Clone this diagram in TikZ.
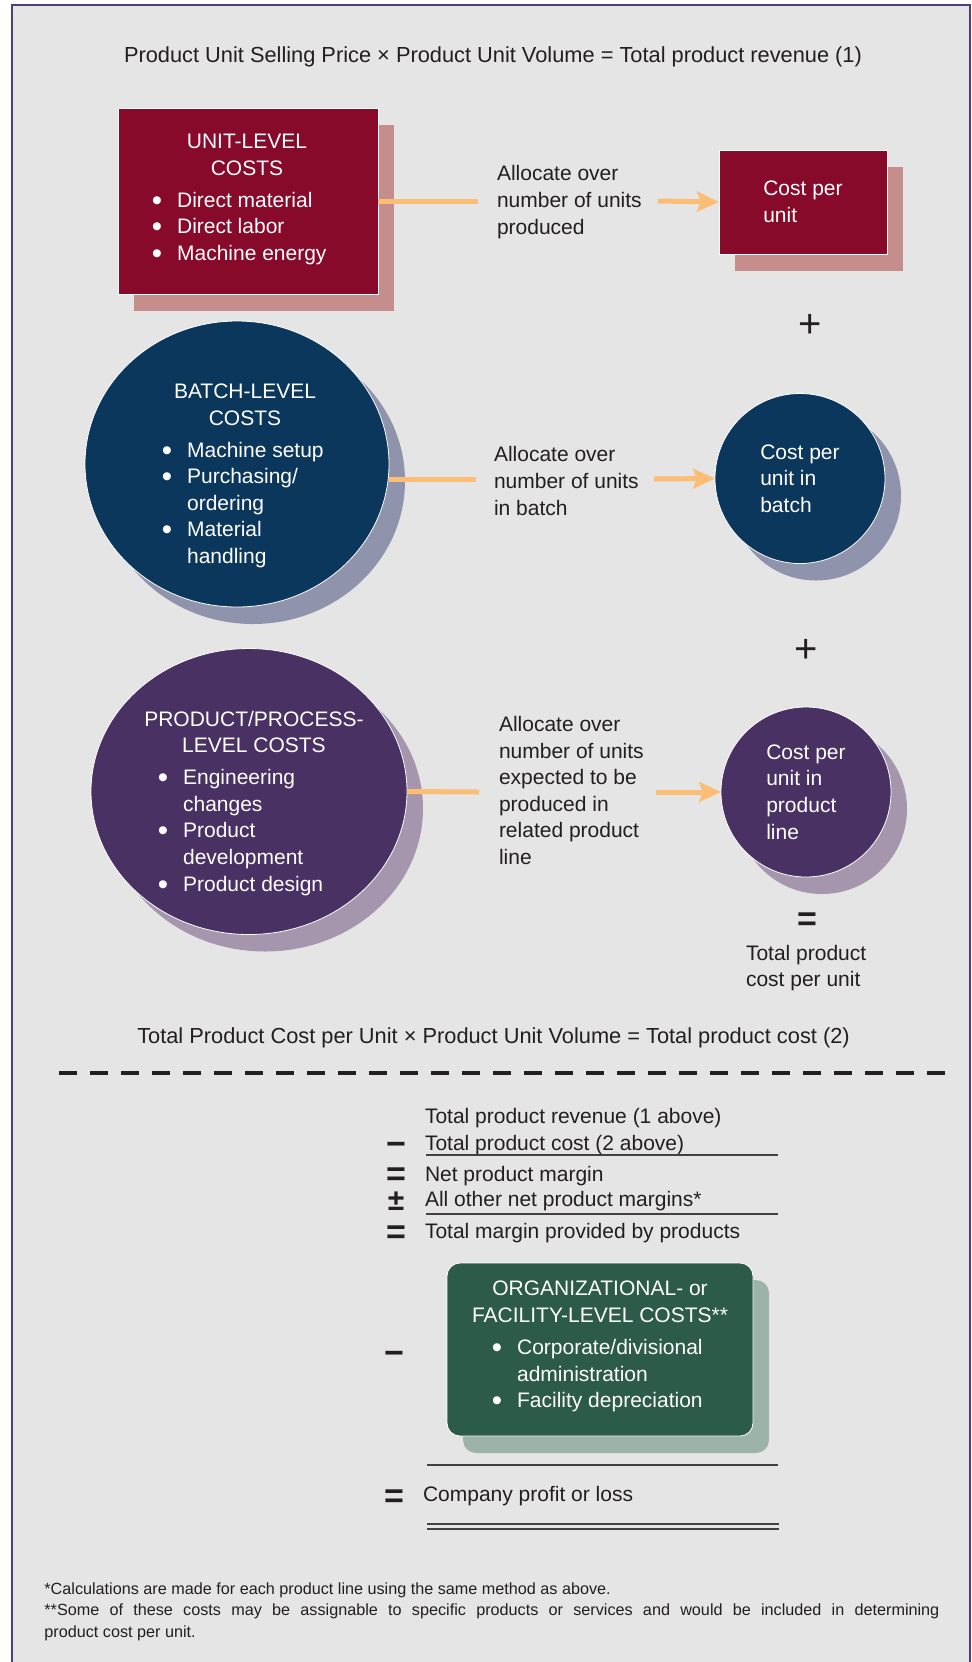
\documentclass[tikz,border=0pt]{standalone}
\usepackage{fontspec}
\setmainfont{Liberation Sans}
\usetikzlibrary{shapes.geometric,shadows,arrows.meta}
\definecolor{bgC}{HTML}{E5E5E5}
\definecolor{frameC}{HTML}{503E74}
\definecolor{inkC}{HTML}{231F20}
\definecolor{maroonC}{HTML}{870A2B}
\definecolor{maroonS}{HTML}{C58E8C}
\definecolor{navyC}{HTML}{0B375D}
\definecolor{navyS}{HTML}{8F93AB}
\definecolor{purpC}{HTML}{4A3163}
\definecolor{purpS}{HTML}{A596AE}
\definecolor{greenC}{HTML}{2C5B4A}
\definecolor{greenS}{HTML}{9BB3A9}
\definecolor{orangeC}{HTML}{FCBD74}
\newcommand{\mybul}{\raisebox{-1.5pt}{\scalebox{1.4}{\textbullet}}}
\newcommand{\blist}[1]{\begin{tabular}{@{}l@{\hspace{7.5pt}}l@{}}#1\end{tabular}}
\begin{document}
\begin{tikzpicture}[x=0.5pt,y=-0.5pt,
  txt/.style={font=\fontsize{10.5}{13.3}\selectfont, text=inkC, inner sep=0pt, outer sep=0pt},
  line/.style={txt, text height=7.5pt, text depth=0pt},
  eqline/.style={line, font=\fontsize{10.9}{13.3}\selectfont},
  wtxt/.style={txt, text=white},
  heading/.style={wtxt, align=center},
  alloc/.style={txt, align=left, anchor=west},
  sh/.style={drop shadow={shadow xshift=8pt, shadow yshift=-8.5pt, fill=#1, opacity=1}},
  unitbox/.style={rectangle, fill=maroonC, draw=white, line width=0.4pt, inner sep=0pt, sh=maroonS, minimum width=130pt, minimum height=93pt},
  costbox/.style={rectangle, fill=maroonC, draw=white, line width=0.4pt, sh=maroonS, minimum width=84pt, minimum height=52pt, wtxt, align=left},
  bigell/.style={ellipse, draw=white, line width=0.4pt, inner sep=0pt, minimum height=143pt},
  smallcirc/.style={circle, draw=white, line width=0.4pt, minimum size=85pt, wtxt, align=left},
  greenbox/.style={rectangle, rounded corners=6.5pt, fill=greenC, draw=white, line width=0.4pt, inner sep=0pt, sh=greenS, minimum width=153pt, minimum height=86.5pt},
  oline/.style={draw=orangeC, line width=2.5pt},
  oarrow/.style={oline, -{Stealth[length=11pt,width=10pt,inset=2pt]}},
  op/.style={font=\fontsize{17}{17}\selectfont\bfseries, text=inkC, inner sep=0pt, anchor=base},
  plussign/.style={font=\fontsize{20}{20}\selectfont, text=inkC, inner sep=0pt, anchor=base},
  rulel/.style={draw=inkC!85, line width=0.7pt},
  dashl/.style={draw=inkC, line width=2pt, dash pattern=on 9pt off 6.5pt},
  foot/.style={font=\fontsize{8.1}{10.75}\selectfont, text=inkC, inner sep=0pt, text width=447.5pt, align=justify, anchor=base west}
]
\useasboundingbox (0,0) rectangle (972,1662);
\fill[white] (0,0) rectangle (972,1662);
\fill[bgC] (12,5) rectangle (970,1662);
\draw[frameC, line width=1pt] (12,1662) -- (12,5) -- (970,5) -- (970,1662);

\node[eqline] (title) at (493,55) {Product Unit Selling Price × Product Unit Volume = Total product revenue (1)};

% ---------- unit level
\node[unitbox] (unit) at (248,201) {};
\node[heading] (unith) at (247,155) {UNIT-LEVEL\\COSTS};
\node[wtxt, anchor=west] (unitl) at (151.8,228.5) {\blist{\mybul & Direct material\\ \mybul & Direct labor\\ \mybul & Machine energy}};
\coordinate (u1) at (478,201);
\coordinate (u2) at (658,201);
\draw[oline] (unit.east) -- (u1);
\node[alloc] (alloc1) at (497,202) {Allocate over\\number of units\\produced};
\node[costbox] (cost1) at (803,202) {Cost per\\unit};
\draw[oarrow] (u2) -- (cost1.west);
\node[plussign] (plus1) at (810,337) {+};

% ---------- batch level
\node[bigell, minimum width=152pt, fill=navyC, sh=navyS] (batch) at (237,464) {};
\node[heading] (batchh) at (245,404.5) {BATCH-LEVEL\\COSTS};
\node[wtxt, anchor=west] (batchl) at (161.8,505) {\blist{\mybul & Machine setup\\ \mybul & Purchasing/\\ & ordering\\ \mybul & Material\\ & handling}};
\coordinate (b1) at (476,479);
\coordinate (b2) at (654,479);
\draw[oline] (batch.east |- b1) -- (b1);
\node[alloc] (alloc2) at (494,481) {Allocate over\\number of units\\in batch};
\node[smallcirc, fill=navyC, sh=navyS] (bcirc) at (800,478.5) {Cost per\\unit in\\batch};
\draw[oarrow] (b2) -- (bcirc.west);
\node[plussign] (plus2) at (806,662) {+};

% ---------- product level
\node[bigell, minimum width=158pt, fill=purpC, sh=purpS] (prod) at (249,791.5) {};
\node[heading] (prodh) at (254,732) {PRODUCT/PROCESS-\\LEVEL COSTS};
\node[wtxt, anchor=west] (prodl) at (157.8,832.5) {\blist{\mybul & Engineering\\ & changes\\ \mybul & Product\\ & development\\ \mybul & Product design}};
\coordinate (p1) at (479,792);
\coordinate (p2) at (656,792);
\draw[oline] (prod.east) -- (p1);
\node[alloc] (alloc3) at (499,790.5) {Allocate over\\number of units\\expected to be\\produced in\\related product\\line};
\node[smallcirc, fill=purpC, sh=purpS] (pcirc) at (806,792) {Cost per\\unit in\\product\\line};
\draw[oarrow] (p2) -- (pcirc.west);
\node[op] (eqa) at (807,930) {=};
\node[alloc] (tpc) at (746,968) {Total product\\cost per unit};

\node[eqline] (mid) at (493.5,1036) {Total Product Cost per Unit × Product Unit Volume = Total product cost (2)};
\coordinate (d1) at (59,1073);
\coordinate (d2) at (945,1073);
\draw[dashl] (d1) -- (d2);

% ---------- margin list
\node[line, anchor=west] (rev) at (425,1116) {Total product revenue (1 above)};
\node[op] (ops) at (396,1155) {\begin{tabular}[t]{@{}c@{}}−\\[-2pt] =\\[-4.5pt] {\fontsize{15}{17}\selectfont ±}\\[-0.5pt] =\end{tabular}};
\node[line, anchor=west] (tcost) at (425,1143) {Total product cost (2 above)};
\coordinate (ra1) at (426,1155);
\coordinate (rb1) at (778,1155);
\draw[rulel] (ra1) -- (rb1);
\node[line, anchor=west] (net) at (425,1174) {Net product margin};
\node[line, anchor=west] (other) at (425,1199) {All other net product margins*};
\coordinate (ra2) at (426,1214);
\coordinate (rb2) at (778,1214);
\draw[rulel] (ra2) -- (rb2);
\node[line, anchor=west] (tmarg) at (425,1231) {Total margin provided by products};

% ---------- organizational
\node[greenbox] (org) at (600,1349.5) {};
\node[heading] (orgh) at (600,1302) {ORGANIZATIONAL- or\\FACILITY-LEVEL COSTS**};
\node[wtxt, anchor=west] (orgl) at (491.8,1376) {\blist{\mybul & Corporate/divisional\\ & administration\\ \mybul & Facility depreciation}};
\node[op] (mi2) at (394,1364) {−};
\coordinate (ra3) at (427,1465);
\coordinate (rb3) at (778,1465);
\draw[rulel] (ra3) -- (rb3);
\node[op] (eq3) at (394,1507) {=};
\node[line, anchor=west] (profit) at (423,1494) {Company profit or loss};
\coordinate (ra4) at (427,1524);
\coordinate (rb4) at (779,1524);
\coordinate (ra5) at (427,1529);
\coordinate (rb5) at (779,1529);
\draw[rulel] (ra4) -- (rb4);
\draw[rulel] (ra5) -- (rb5);

% ---------- footnotes
\node[foot] (fn) at (44,1594) {*Calculations are made for each product line using the same method as above.\\ {*}*Some of these costs may be assignable to specific products or services and would be included in determining\linebreak product cost per unit.};
\end{tikzpicture}
\end{document}
